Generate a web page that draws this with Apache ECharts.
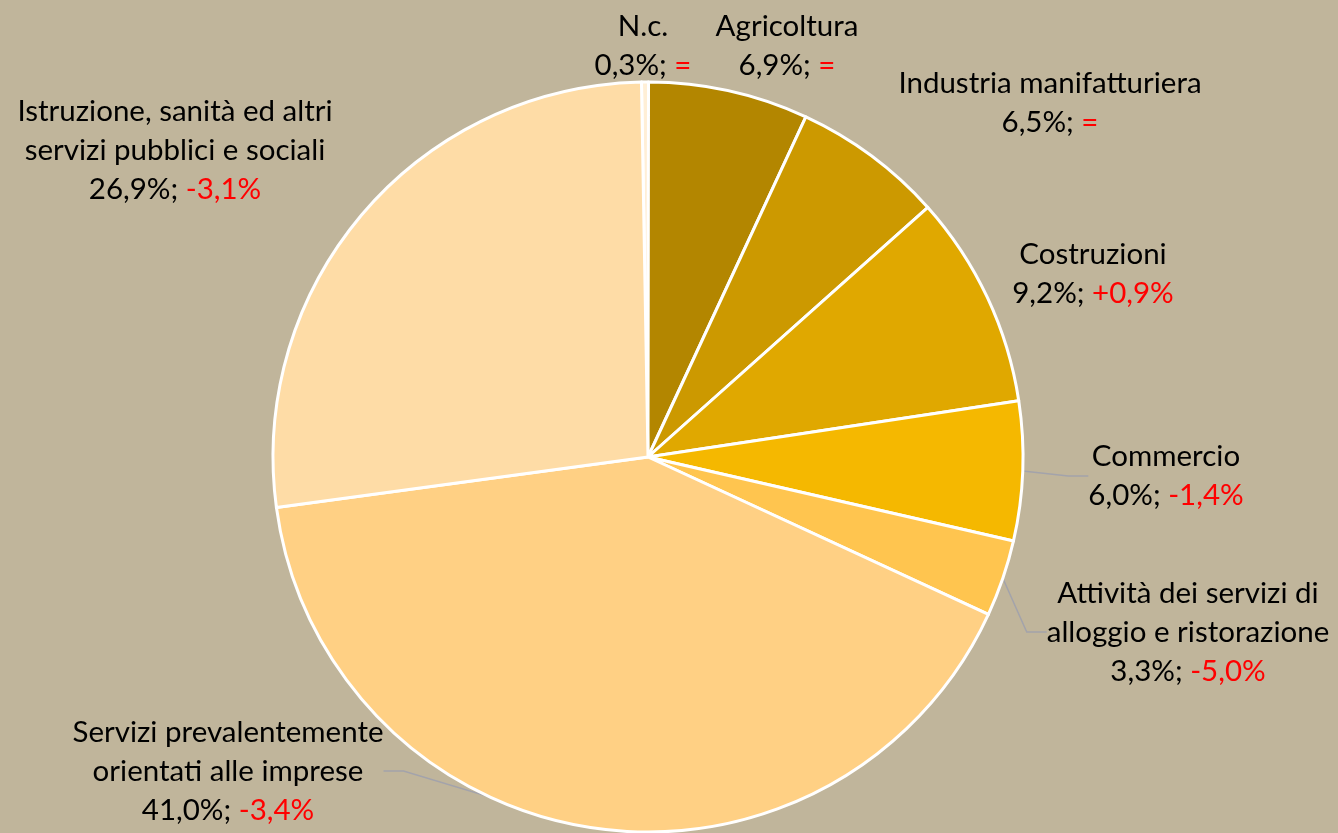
<!DOCTYPE html>
<html>
<head>
<meta charset="utf-8">
<script src="https://cdn.jsdelivr.net/npm/echarts@6/dist/echarts.min.js"></script>
<style>
  html, body { margin: 0; padding: 0; background: #C0B59B; }
  #chart { width: 1338px; height: 833px; }
</style>
</head>
<body>
<div id="chart"></div>
<script>
// quote per settore (%), in senso orario dall'alto
const categories = ['N.c.', 'Agricoltura', 'Industria manifatturiera', 'Costruzioni', 'Commercio',
  'Attività dei servizi di alloggio e ristorazione', 'Servizi prevalentemente orientati alle imprese',
  'Istruzione, sanità ed altri servizi pubblici e sociali']
const labelNames = ['N.c.', 'Agricoltura', 'Industria manifatturiera', 'Costruzioni', 'Commercio',
  'Attività dei servizi di\nalloggio e ristorazione', 'Servizi prevalentemente\norientati alle imprese',
  'Istruzione, sanità ed altri\nservizi pubblici e sociali']
const shares = [0.3, 6.9, 6.5, 9.2, 6.0, 3.3, 41.0, 26.9]
const shareLabels = ['0,3%', '6,9%', '6,5%', '9,2%', '6,0%', '3,3%', '41,0%', '26,9%']
const changes = ['=', '=', '=', '+0,9%', '-1,4%', '-5,0%', '-3,4%', '-3,1%']

const colors = ['#FFEFD6', '#B38600', '#CC9900', '#E0A800', '#F5B800', '#FFC54F', '#FFD084', '#FEDCA6']
// centro delle etichette
const labelPos = [[643, 46], [787, 46], [1050, 103], [1093, 274], [1166, 476], [1188, 632], [228, 771], [175, 150]]
const withLine = [false, false, false, false, true, true, true, false]

let chart = echarts.init(document.getElementById('chart'))

let data = categories.map((name, i) => {
  return {
    name: name,
    value: shares[i],
    itemStyle: { color: colors[i] },
    labelLine: { show: withLine[i] }
  }
})

let option = {
  backgroundColor: '#C0B59B',
  animation: false,
  series: [
    {
      type: 'pie',
      center: [648, 457],
      radius: 375,
      startAngle: 91,
      clockwise: true,
      itemStyle: {
        borderColor: '#FFFFFF',
        borderWidth: 3
      },
      label: {
        show: true,
        position: 'outside',
        overflow: 'none',
        formatter: function (p) {
          let i = p.dataIndex
          return '{n|' + labelNames[i].split('\n').join('}\n{n|') + '}\n{v|' + shareLabels[i] + '; }{d|' + changes[i] + '}'
        },
        align: 'center',
        rich: {
          n: { fontFamily: 'Lato', fontSize: 29.5, color: '#000000', lineHeight: 39, align: 'center' },
          v: { fontFamily: 'Lato', fontSize: 29.5, color: '#000000', lineHeight: 39 },
          d: { fontFamily: 'Lato', fontSize: 29.5, color: '#FF0000', lineHeight: 39 }
        }
      },
      labelLine: {
        length: 20,
        length2: 20,
        lineStyle: { color: '#A3A3AB', width: 1.5 }
      },
      labelLayout: function (params) {
        let pos = labelPos[params.dataIndex]
        return {
          x: pos[0],
          y: pos[1],
          align: 'center',
          verticalAlign: 'middle'
        }
      },
      data: data
    }
  ]
}
chart.setOption(option)
</script>
</body>
</html>
